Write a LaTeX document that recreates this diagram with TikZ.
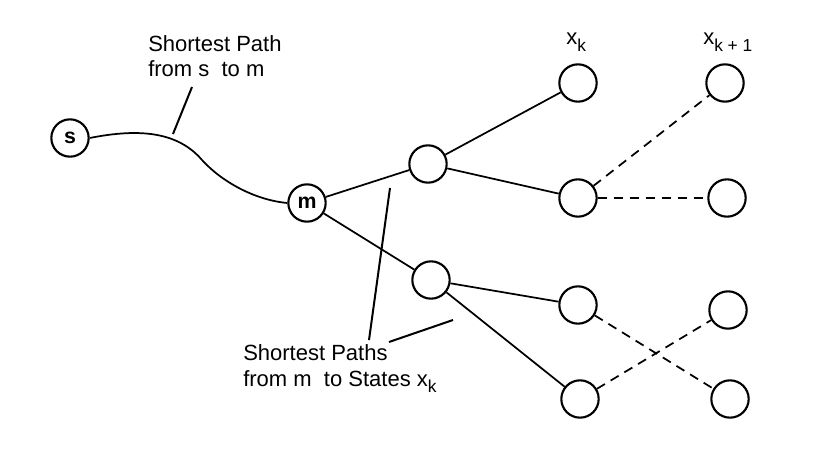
\documentclass[tikz,border=0pt]{standalone}
\usepackage{fontspec}
\setmainfont{Liberation Sans}
\newcommand{\subk}[1]{\raisebox{-0.3em}{\fontsize{13}{13}\selectfont #1}}
\begin{document}
\begin{tikzpicture}[x=0.75pt,y=-0.75pt,
 state/.style={circle,draw,line width=1.6pt,minimum size=28pt,inner sep=0pt,font=\fontsize{16}{18}\selectfont\bfseries},
 edge/.style={line width=1.3pt},
 dedge/.style={line width=1.3pt,dash pattern=on 7pt off 5pt},
 lbl/.style={font=\fontsize{16.5}{19}\selectfont, inner sep=0pt, align=left},
 leader/.style={line width=1.5pt}]
\useasboundingbox[fill=white] (0,0) rectangle (823,463);
% nodes
\node[state] (s) at (70,138) {s};
\node[state] (m) at (307,203) {m};
\node[state] (a) at (428,164) {};
\node[state] (b) at (431,280) {};
\node[state] (x1) at (578,83) {};
\node[state] (x2) at (578,198) {};
\node[state] (x3) at (578,305) {};
\node[state] (x4) at (580,399) {};
\node[state] (y1) at (725,83) {};
\node[state] (y2) at (727,198) {};
\node[state] (y3) at (728,310) {};
\node[state] (y4) at (730,399) {};
% curve s -> m
\coordinate (bend) at (202,160);
\draw[edge] (s.east) .. controls (140,128) and (178,132) .. (bend)
  .. controls (222,182) and (255,200) .. (m.west);
% solid edges
\draw[edge] (m) -- (a);
\draw[edge] (m) -- (b);
\draw[edge] (a) -- (x1);
\draw[edge] (a) -- (x2);
\draw[edge] (b) -- (x3);
\draw[edge] (b) -- (x4);
% dashed edges
\draw[dedge] (x2) -- (y1);
\draw[dedge] (x2) -- (y2);
\draw[dedge] (x3) -- (y4);
\draw[dedge] (x4) -- (y3);
% column labels
\node[lbl, anchor=base west] (lk) at (566,45) {x\subk{k}};
\node[lbl, anchor=base west] (lk1) at (703,45) {x\subk{k + 1}};
% annotations
\node[lbl, anchor=base west] (t1) at (148,77) {Shortest Path\\from s \ to m};
\coordinate (t1a) at (192,87);
\coordinate (t1b) at (173,134);
\draw[leader] (t1a) -- (t1b);
\node[lbl, anchor=base west] (t2) at (243,386) {Shortest Paths\\from m \ to States x\subk{k}};
\coordinate (t2a) at (369,340);
\coordinate (t2b) at (390,188);
\coordinate (t2c) at (389,342);
\coordinate (t2d) at (453,320);
\draw[leader] (t2a) -- (t2b);
\draw[leader] (t2c) -- (t2d);
\end{tikzpicture}
\end{document}
